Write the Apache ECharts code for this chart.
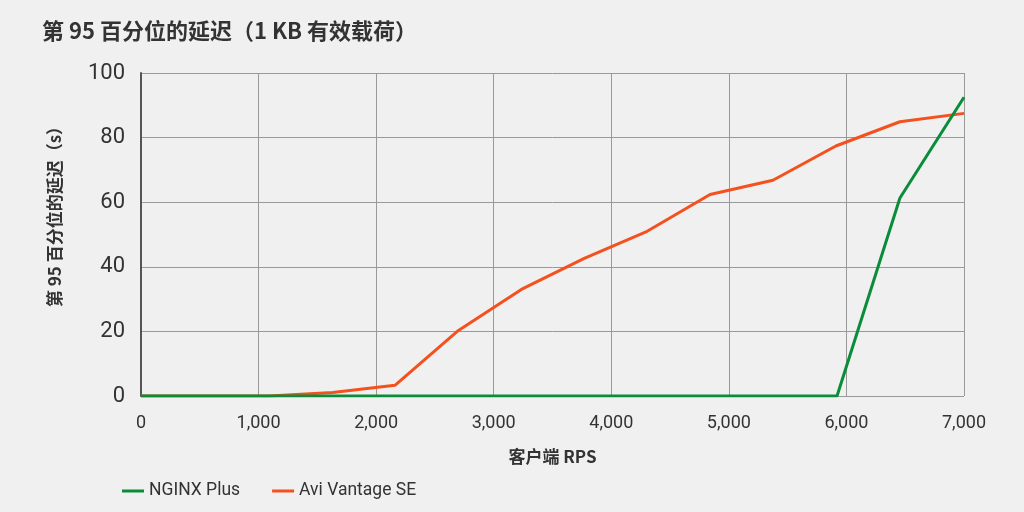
<!DOCTYPE html>
<html>
<head>
<meta charset="utf-8">
<script src="https://cdn.jsdelivr.net/npm/echarts@6/dist/echarts.min.js"></script>
<style>
html,body{margin:0;padding:0;background:#f0f0f0;}
#c{width:1024px;height:512px;}
</style>
</head>
<body>
<div id="c"></div>
<script>
const rpsNginx = [0, 550, 1090, 1625, 2160, 2700, 3235, 3770, 4305, 4840, 5375, 5920, 6455, 7000];
const nginxPlus = [0, 0, 0, 0, 0, 0, 0, 0, 0, 0, 0, 0, 61.3, 92.5];
const rpsAvi = [0, 550, 1090, 1630, 2160, 2700, 3235, 3770, 4305, 4840, 5375, 5910, 6455, 7000];
const aviVantage = [0, 0, 0, 1.1, 3.3, 20.3, 33, 42.6, 51, 62.4, 66.8, 77.4, 84.9, 87.5];
const seriesNames = ['NGINX Plus', 'Avi Vantage SE'];

const font = '"Noto Sans CJK SC", Roboto, sans-serif';
const chart = echarts.init(document.getElementById('c'));
chart.setOption({
  backgroundColor: '#f0f0f0',
  animation: false,
  title: {
    text: '第 95 百分位的延迟（1 KB 有效载荷）',
    left: 37, top: 15,
    textStyle: {fontFamily: font, fontSize: 22, fontWeight: 'bold', color: '#333'}
  },
  grid: {left: 141, right: 60, top: 73, bottom: 116, containLabel: false},
  legend: {
    left: 117, top: 477,
    icon: 'rect', itemWidth: 22, itemHeight: 3, itemGap: 32,
    textStyle: {fontFamily: 'Roboto, sans-serif', fontSize: 17.5, color: '#333'},
    data: seriesNames
  },
  xAxis: {
    type: 'value', min: 0, max: 7000, interval: 1000,
    name: '客户端 RPS', nameLocation: 'middle', nameGap: 52,
    nameTextStyle: {fontFamily: font, fontSize: 17, fontWeight: 'bold', color: '#333'},
    axisLine: {show: false},
    axisTick: {show: false},
    axisLabel: {fontFamily: 'Roboto, sans-serif', fontSize: 18, color: '#333', margin: 18,
      formatter: v => v.toLocaleString('en-US')},
    splitLine: {show: true, lineStyle: {color: '#999', width: 1}}
  },
  yAxis: {
    type: 'value', min: 0, max: 100, interval: 20,
    name: '第 95 百分位的延迟（s）', nameLocation: 'middle', nameGap: 78, nameRotate: 90,
    nameTextStyle: {fontFamily: font, fontSize: 17, fontWeight: 'bold', color: '#333',
      padding: [0, 0, 0, 44]},
    axisLine: {show: true, lineStyle: {color: '#555', width: 2}},
    axisTick: {show: false},
    axisLabel: {fontFamily: 'Roboto, sans-serif', fontSize: 22, color: '#333', margin: 16},
    splitLine: {show: true, lineStyle: {color: '#999', width: 1}}
  },
  series: [
    {name: seriesNames[0], type: 'line', symbol: 'none', z: 3,
     data: rpsNginx.map((x, i) => [x, nginxPlus[i]]),
     lineStyle: {color: '#0b8c3a', width: 3}, itemStyle: {color: '#0b8c3a'}},
    {name: seriesNames[1], type: 'line', symbol: 'none', z: 2,
     data: rpsAvi.map((x, i) => [x, aviVantage[i]]),
     lineStyle: {color: '#f4511e', width: 3}, itemStyle: {color: '#f4511e'}}
  ]
});
</script>
</body>
</html>
